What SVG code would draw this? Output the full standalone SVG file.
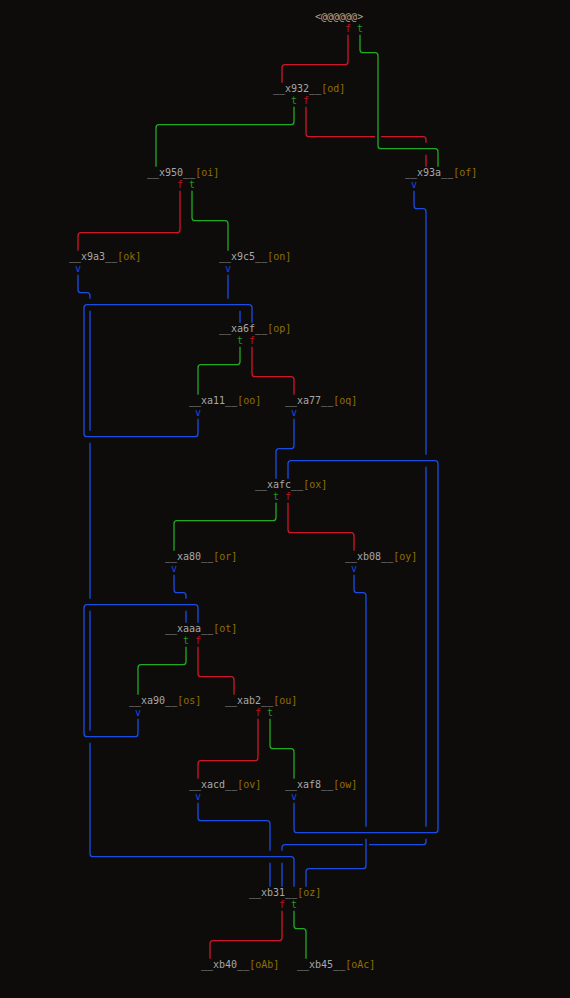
<svg xmlns="http://www.w3.org/2000/svg" width="570" height="998" viewBox="0 0 570 998">
<style>
text{font-family:"DejaVu Sans Mono","Liberation Mono",monospace;font-size:10px}
.lbl{fill:#a8a8a8}
.br{fill:#8f7000}
.t{fill:#1f9a1f}
.f{fill:#b81426}
.v{fill:#1a46e0}
.e{fill:none;stroke-width:1.3;stroke-linecap:butt}
.er{stroke:#d0142c}
.eg{stroke:#22aa22}
.eb{stroke:#1a4ce6}
</style>
<rect x="0" y="0" width="570" height="998" fill="#0d0c0b"/>
<g id="connectors">
<path class="e er" d="M348 34.7V61.7Q348 64.7 345 64.7H285Q282 64.7 282 67.7V82.7"/>
<path class="e eg" d="M360 34.7V49.7Q360 52.7 363 52.7H375Q378 52.7 378 55.7V145.7Q378 148.7 381 148.7H435Q438 148.7 438 151.7V166.7"/>
<path class="e eg" d="M294 106.7V121.7Q294 124.7 291 124.7H159Q156 124.7 156 127.7V166.7"/>
<path class="e er" d="M306 106.7V133.7Q306 136.7 309 136.7H375M381 136.7H423Q426 136.7 426 139.7V142.7M426 154.7V166.7"/>
<path class="e er" d="M180 190.7V229.7Q180 232.7 177 232.7H81Q78 232.7 78 235.7V250.7"/>
<path class="e eg" d="M192 190.7V217.7Q192 220.7 195 220.7H225Q228 220.7 228 223.7V250.7"/>
<path class="e eb" d="M414 190.7V205.7Q414 208.7 417 208.7H423Q426 208.7 426 211.7V454.7M426 466.7V826.7M426 838.7V841.7Q426 844.7 423 844.7H369M363 844.7H285Q282 844.7 282 847.7V850.7M282 862.7V886.7"/>
<path class="e eb" d="M78 274.7V289.7Q78 292.7 81 292.7H87Q90 292.7 90 295.7V298.7M90 310.7V430.7M90 442.7V598.7M90 610.7V730.7M90 742.7V853.7Q90 856.7 93 856.7H291Q294 856.7 294 859.7V886.7"/>
<path class="e eb" d="M228 274.7V298.7M240 310.7V322.7"/>
<path class="e eb" d="M198 418.7V433.7Q198 436.7 195 436.7H87Q84 436.7 84 433.7V307.7Q84 304.7 87 304.7H249Q252 304.7 252 307.7V322.7"/>
<path class="e eg" d="M240 346.7V361.7Q240 364.7 237 364.7H201Q198 364.7 198 367.7V394.7"/>
<path class="e er" d="M252 346.7V373.7Q252 376.7 255 376.7H291Q294 376.7 294 379.7V394.7"/>
<path class="e eb" d="M294 418.7V445.7Q294 448.7 291 448.7H279Q276 448.7 276 451.7V478.7"/>
<path class="e eb" d="M294 802.7V829.7Q294 832.7 297 832.7H435Q438 832.7 438 829.7V463.7Q438 460.7 435 460.7H291Q288 460.7 288 463.7V478.7"/>
<path class="e eg" d="M276 502.7V517.7Q276 520.7 273 520.7H177Q174 520.7 174 523.7V550.7"/>
<path class="e er" d="M288 502.7V529.7Q288 532.7 291 532.7H351Q354 532.7 354 535.7V550.7"/>
<path class="e eb" d="M354 574.7V589.7Q354 592.7 357 592.7H363Q366 592.7 366 595.7V826.7M366 838.7V865.7Q366 868.7 363 868.7H309Q306 868.7 306 871.7V886.7"/>
<path class="e eb" d="M174 574.7V589.7Q174 592.7 177 592.7H183Q186 592.7 186 595.7V598.7M186 610.7V622.7"/>
<path class="e eb" d="M138 718.7V733.7Q138 736.7 135 736.7H87Q84 736.7 84 733.7V607.7Q84 604.7 87 604.7H195Q198 604.7 198 607.7V622.7"/>
<path class="e eg" d="M186 646.7V661.7Q186 664.7 183 664.7H141Q138 664.7 138 667.7V694.7"/>
<path class="e er" d="M198 646.7V673.7Q198 676.7 201 676.7H231Q234 676.7 234 679.7V694.7"/>
<path class="e er" d="M258 718.7V757.7Q258 760.7 255 760.7H201Q198 760.7 198 763.7V778.7"/>
<path class="e eg" d="M270 718.7V745.7Q270 748.7 273 748.7H291Q294 748.7 294 751.7V778.7"/>
<path class="e eb" d="M198 802.7V817.7Q198 820.7 201 820.7H267Q270 820.7 270 823.7V850.7M270 862.7V886.7"/>
<path class="e er" d="M282 910.7V937.7Q282 940.7 279 940.7H213Q210 940.7 210 943.7V958.7"/>
<path class="e eg" d="M294 910.7V925.7Q294 928.7 297 928.7H303Q306 928.7 306 931.7V958.7"/>
</g>
<g id="n_root"><text class="lbl" x="315" y="20.2">&lt;@@@@@@&gt;</text><text class="f" x="345" y="32.2">f</text><text class="t" x="357" y="32.2">t</text></g>
<g id="n_x932"><text class="lbl" x="273" y="92.2">__x932__<tspan class="br">[od]</tspan></text><text class="t" x="291" y="104.2">t</text><text class="f" x="303" y="104.2">f</text></g>
<g id="n_x950"><text class="lbl" x="147" y="176.2">__x950__<tspan class="br">[oi]</tspan></text><text class="f" x="177" y="188.2">f</text><text class="t" x="189" y="188.2">t</text></g>
<g id="n_x93a"><text class="lbl" x="405" y="176.2">__x93a__<tspan class="br">[of]</tspan></text><text class="v" x="411" y="188.2">v</text></g>
<g id="n_x9a3"><text class="lbl" x="69" y="260.2">__x9a3__<tspan class="br">[ok]</tspan></text><text class="v" x="75" y="272.2">v</text></g>
<g id="n_x9c5"><text class="lbl" x="219" y="260.2">__x9c5__<tspan class="br">[on]</tspan></text><text class="v" x="225" y="272.2">v</text></g>
<g id="n_xa6f"><text class="lbl" x="219" y="332.2">__xa6f__<tspan class="br">[op]</tspan></text><text class="t" x="237" y="344.2">t</text><text class="f" x="249" y="344.2">f</text></g>
<g id="n_xa11"><text class="lbl" x="189" y="404.2">__xa11__<tspan class="br">[oo]</tspan></text><text class="v" x="195" y="416.2">v</text></g>
<g id="n_xa77"><text class="lbl" x="285" y="404.2">__xa77__<tspan class="br">[oq]</tspan></text><text class="v" x="291" y="416.2">v</text></g>
<g id="n_xafc"><text class="lbl" x="255" y="488.2">__xafc__<tspan class="br">[ox]</tspan></text><text class="t" x="273" y="500.2">t</text><text class="f" x="285" y="500.2">f</text></g>
<g id="n_xa80"><text class="lbl" x="165" y="560.2">__xa80__<tspan class="br">[or]</tspan></text><text class="v" x="171" y="572.2">v</text></g>
<g id="n_xb08"><text class="lbl" x="345" y="560.2">__xb08__<tspan class="br">[oy]</tspan></text><text class="v" x="351" y="572.2">v</text></g>
<g id="n_xaaa"><text class="lbl" x="165" y="632.2">__xaaa__<tspan class="br">[ot]</tspan></text><text class="t" x="183" y="644.2">t</text><text class="f" x="195" y="644.2">f</text></g>
<g id="n_xa90"><text class="lbl" x="129" y="704.2">__xa90__<tspan class="br">[os]</tspan></text><text class="v" x="135" y="716.2">v</text></g>
<g id="n_xab2"><text class="lbl" x="225" y="704.2">__xab2__<tspan class="br">[ou]</tspan></text><text class="f" x="255" y="716.2">f</text><text class="t" x="267" y="716.2">t</text></g>
<g id="n_xacd"><text class="lbl" x="189" y="788.2">__xacd__<tspan class="br">[ov]</tspan></text><text class="v" x="195" y="800.2">v</text></g>
<g id="n_xaf8"><text class="lbl" x="285" y="788.2">__xaf8__<tspan class="br">[ow]</tspan></text><text class="v" x="291" y="800.2">v</text></g>
<g id="n_xb31"><text class="lbl" x="249" y="896.2">__xb31__<tspan class="br">[oz]</tspan></text><text class="f" x="279" y="908.2">f</text><text class="t" x="291" y="908.2">t</text></g>
<g id="n_xb40"><text class="lbl" x="201" y="968.2">__xb40__<tspan class="br">[oAb]</tspan></text></g>
<g id="n_xb45"><text class="lbl" x="297" y="968.2">__xb45__<tspan class="br">[oAc]</tspan></text></g>
</svg>
